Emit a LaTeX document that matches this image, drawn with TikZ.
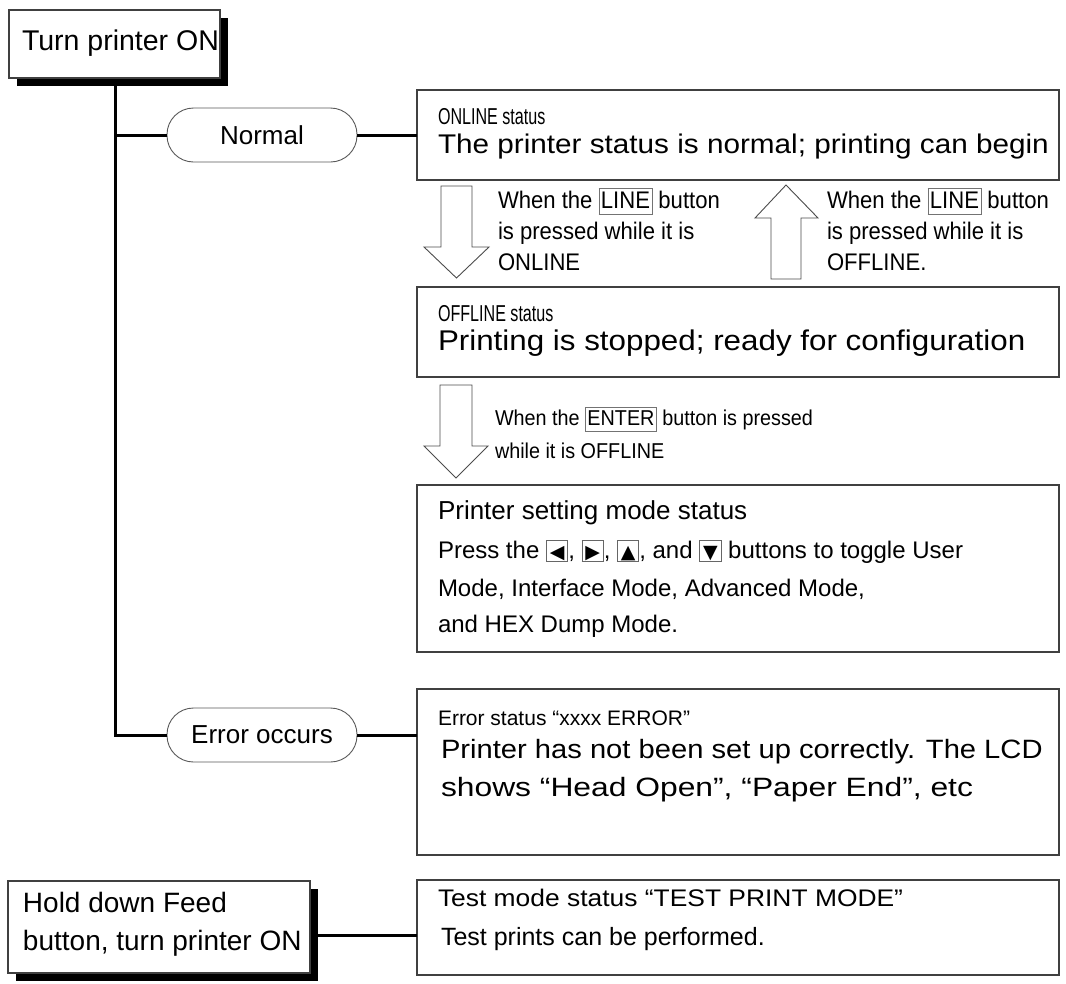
\documentclass[tikz,border=0pt]{standalone}
\usepackage{fontspec}
\setmainfont{Liberation Sans}
\newfontfamily\narrowfnt[FakeStretch=0.7]{Liberation Sans}
\newfontfamily\labfnt[FakeStretch=0.92]{Liberation Sans}
\newfontfamily\widefnt[FakeStretch=1.1]{Liberation Sans}
\newfontfamily\widerfnt[FakeStretch=1.2]{Liberation Sans}
\newfontfamily\symfnt{DejaVu Sans}
\newcommand{\fsz}[1]{\fontsize{#1}{#1}\selectfont}
\newcommand{\keyb}[1]{\begingroup\setlength{\fboxsep}{1.5pt}\setlength{\fboxrule}{0.8pt}\fcolorbox{black!55}{white}{\rule[-0.2em]{0pt}{0.95em}#1}\endgroup}
\newcommand{\akey}[1]{\begingroup\setlength{\fboxsep}{0.6pt}\setlength{\fboxrule}{0.9pt}\fcolorbox{black!60}{white}{\makebox[0.8em]{\rule[-0.1em]{0pt}{0.8em}\raisebox{0.0em}{\symfnt\fsz{19}#1}}}\endgroup}
\begin{document}
\begin{tikzpicture}[x=1pt,y=-1pt,
  box/.style={draw=black!75, line width=1.2pt, fill=white, rectangle, inner sep=0pt, outer sep=0pt, anchor=north west},
  shadowbox/.style={fill=black, rectangle, inner sep=0pt, outer sep=0pt, anchor=north west},
  pill/.style={draw=black!65, line width=0.9pt, fill=white, rounded corners=26.5pt, minimum width=190pt, minimum height=54pt, inner sep=0pt, outer sep=0pt, font=\fsz{26}},
  conn/.style={line width=3pt},
  blk/.style={draw=black!70, line width=0.9pt, fill=white, line join=miter},
  txt/.style={anchor=base west, inner sep=0pt, outer sep=0pt}]
\useasboundingbox (0,0) rectangle (1066,983);

% left boxes with shadows
\node[shadowbox, minimum width=211pt, minimum height=68pt] (tsh) at (17,18) {};
\node[box, minimum width=211pt, minimum height=68pt] (top) at (9,10) {};
\node[txt, font=\fsz{28.5}] (toptxt) at (22,50) {Turn printer ON};

\node[shadowbox, minimum width=302pt, minimum height=92pt] (fsh) at (16,889) {};
\node[box, minimum width=302pt, minimum height=92pt] (feed) at (8,881) {};
\node[txt, font=\fsz{28}] (feedA) at (23,912) {Hold down Feed};
\node[txt, font=\fsz{28}] (feedB) at (23,950) {button, turn printer ON};

% pills
\node[pill] (normal) at (262,135) {Normal};
\node[pill] (err) at (262,735) {Error occurs};

% status boxes
\node[box, minimum width=642pt, minimum height=90pt] (online) at (417,90) {};
\node[box, minimum width=642pt, minimum height=90pt] (offline) at (417,287) {};
\node[box, minimum width=642pt, minimum height=167pt] (setting) at (417,485) {};
\node[box, minimum width=642pt, minimum height=166pt] (errbox) at (417,689) {};
\node[box, minimum width=642pt, minimum height=95pt] (test) at (417,880) {};

% connectors
\coordinate (tk) at (115,86);
\draw[conn] (tk) |- (err.west);
\draw[conn] (normal.west -| tk) -- (normal.west);
\draw[conn] (normal.east) -- (normal.east -| online.west);
\draw[conn] (err.east) -- (err.east -| errbox.west);
\draw[conn] (fsh.east) -- (fsh.east -| test.west);

% block arrows
\draw[blk] (441,186) -- (472,186) -- (472,247) -- (489,247) -- (456.5,278) -- (424,247) -- (441,247) -- cycle;
\draw[blk] (771,279) -- (801,279) -- (801,218) -- (818,218) -- (786,185) -- (755,218) -- (771,218) -- cycle;
\draw[blk] (440,385) -- (472,385) -- (472,446) -- (488,446) -- (456,478) -- (424,446) -- (440,446) -- cycle;

% ONLINE box texts
\node[txt, font=\narrowfnt\fsz{23}] (onA) at (438,124) {ONLINE status};
\node[txt, font=\widefnt\fsz{27}] (onB) at (438,153) {The printer status is normal; printing can begin};

% LINE labels
\node[txt, font=\labfnt\fsz{24}] (ldA) at (498,208) {When the \keyb{LINE} button};
\node[txt, font=\labfnt\fsz{24}] (ldB) at (498,239) {is pressed while it is};
\node[txt, font=\labfnt\fsz{24}] (ldC) at (498,270) {ONLINE};
\node[txt, font=\labfnt\fsz{24}] (luA) at (827,208) {When the \keyb{LINE} button};
\node[txt, font=\labfnt\fsz{24}] (luB) at (827,239) {is pressed while it is};
\node[txt, font=\labfnt\fsz{24}] (luC) at (827,270) {OFFLINE.};

% OFFLINE box texts
\node[txt, font=\narrowfnt\fsz{23}] (offA) at (438,321) {OFFLINE status};
\node[txt, font=\widefnt\fsz{28.5}] (offB) at (438,350) {Printing is stopped; ready for configuration};

% ENTER label
\node[txt, font=\labfnt\fsz{21.5}] (enA) at (495,425) {When the \keyb{ENTER} button is pressed};
\node[txt, font=\labfnt\fsz{21.5}] (enB) at (495,458) {while it is OFFLINE};

% setting box texts
\node[txt, font=\fsz{26}] (setA) at (438,519) {Printer setting mode status};
\node[txt, font=\fsz{24}] (setB) at (438,558) {Press the \akey{◀}, \akey{▶}, \akey{▲}, and \akey{▼} buttons to toggle User};
\node[txt, font=\fsz{24}] (setC) at (438,596) {Mode, Interface Mode, Advanced Mode,};
\node[txt, font=\fsz{24}] (setD) at (438,632) {and HEX Dump Mode.};

% error box texts
\node[txt, font=\fsz{21}] (erA) at (438,725) {Error status “xxxx ERROR”};
\node[txt, font=\widefnt\fsz{26.5}] (erB) at (441,758) {Printer has not been set up correctly. The LCD};
\node[txt, font=\widerfnt\fsz{26.5}] (erC) at (441,796) {shows “Head Open”, “Paper End”, etc};

% test box texts
\node[txt, font=\widefnt\fsz{24}] (tsA) at (438,906) {Test mode status “TEST PRINT MODE”};
\node[txt, font=\fsz{25}] (tsB) at (441,945) {Test prints can be performed.};
\end{tikzpicture}
\end{document}
